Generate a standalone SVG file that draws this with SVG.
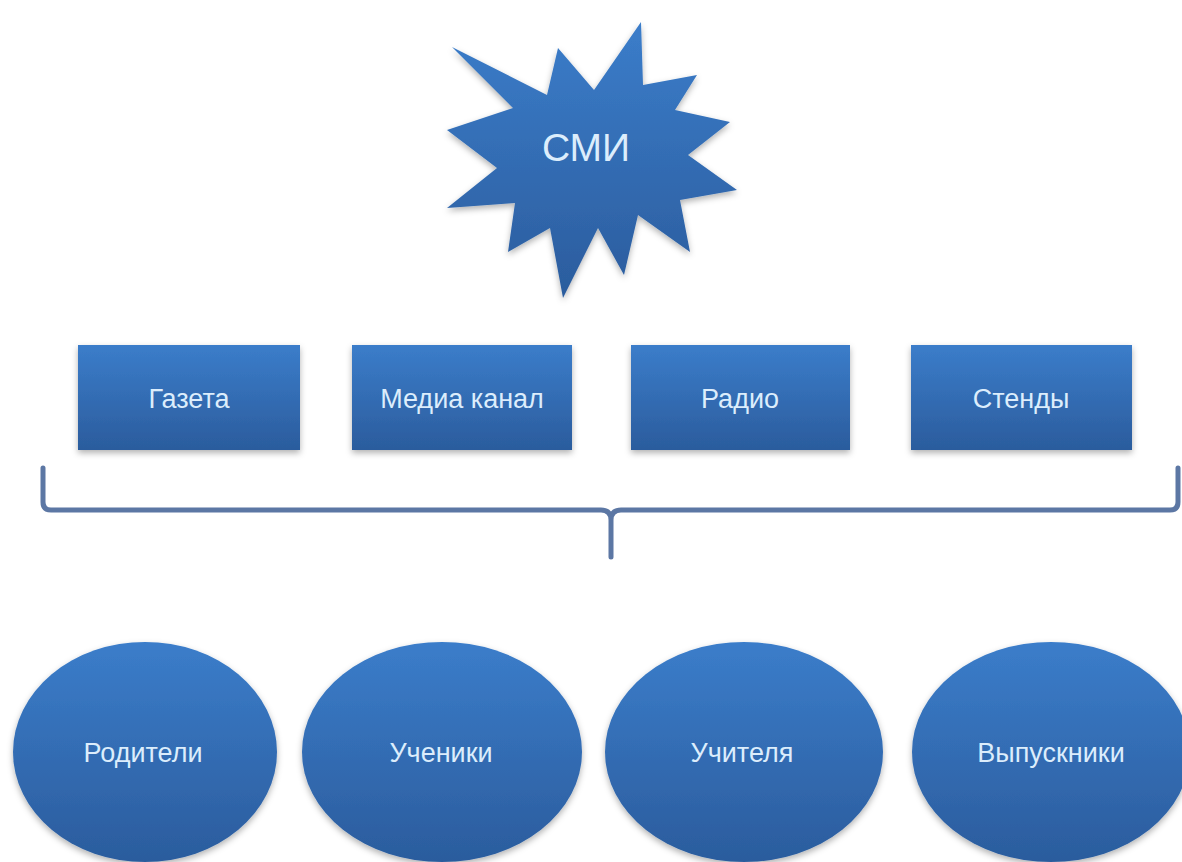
<svg xmlns="http://www.w3.org/2000/svg" width="1182" height="862" viewBox="0 0 1182 862">
  <defs>
    <linearGradient id="gBlue" x1="0" y1="0" x2="0" y2="1">
      <stop offset="0" stop-color="#3b7dca"/>
      <stop offset="1" stop-color="#2b5c9d"/>
    </linearGradient>
    <filter id="shadow" x="-10%" y="-10%" width="120%" height="130%">
      <feDropShadow dx="0" dy="3" stdDeviation="3" flood-color="#000" flood-opacity="0.3"/>
    </filter>
    <style>
      .shape { fill: url(#gBlue); filter: url(#shadow); }
      .lbl { font-family: "Liberation Sans", Arial, sans-serif; font-size: 27px; fill: #dcedfc; text-anchor: middle; }
      .title { font-size: 39px; }
      .brace { fill: none; stroke: #5c77a4; stroke-width: 5; stroke-linecap: round; stroke-linejoin: round; }
    </style>
  </defs>
  <rect width="1182" height="862" fill="#ffffff"/>

  <g id="smi">
    <polygon class="shape" points="641,22 643,85 697,75 675,110 730,122 688,155 737,190 680,200 690,252 638,215 624,275 598,228 563,298 550,228 508,252 515,203 447,208 497,168 447,130 513,108 452,47 547,95 558,48 594,90"/>
    <text class="lbl title" x="586" y="161">СМИ</text>
  </g>

  <g id="gazeta">
    <rect class="shape" x="78" y="345" width="222" height="105"/>
    <text class="lbl" x="189" y="408">Газета</text>
  </g>
  <g id="media">
    <rect class="shape" x="352" y="345" width="220" height="105"/>
    <text class="lbl" x="462" y="408">Медиа канал</text>
  </g>
  <g id="radio">
    <rect class="shape" x="631" y="345" width="219" height="105"/>
    <text class="lbl" x="740" y="408">Радио</text>
  </g>
  <g id="stendy">
    <rect class="shape" x="911" y="345" width="221" height="105"/>
    <text class="lbl" x="1021" y="408">Стенды</text>
  </g>

  <g id="connectors">
    <path class="brace" d="M43,468 V502 Q43,510 51,510 H601 Q611,510 611,520 V557 M611,520 Q611,510 621,510 H1170 Q1178,510 1178,502 V468"/>
  </g>

  <g id="roditeli">
    <ellipse class="shape" cx="145" cy="752" rx="132" ry="110"/>
    <text class="lbl" x="143" y="762">Родители</text>
  </g>
  <g id="ucheniki">
    <ellipse class="shape" cx="442" cy="752" rx="140" ry="110"/>
    <text class="lbl" x="441" y="762">Ученики</text>
  </g>
  <g id="uchitelya">
    <ellipse class="shape" cx="744" cy="752" rx="139" ry="110"/>
    <text class="lbl" x="742" y="762">Учителя</text>
  </g>
  <g id="vypuskniki">
    <ellipse class="shape" cx="1051" cy="752" rx="139" ry="110"/>
    <text class="lbl" x="1051" y="762">Выпускники</text>
  </g>
</svg>
